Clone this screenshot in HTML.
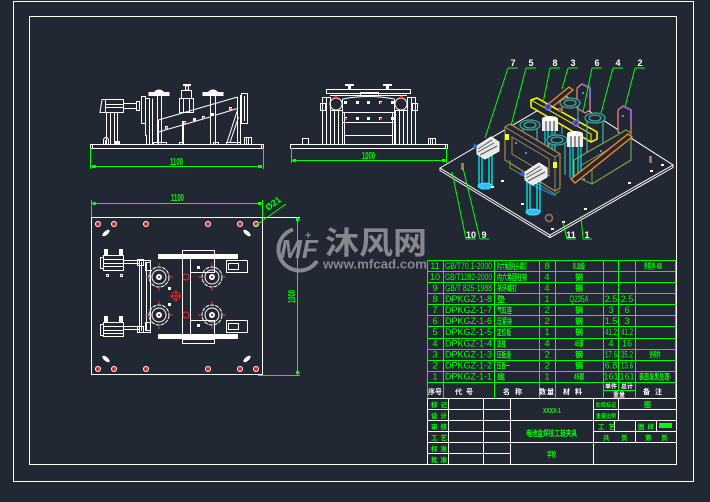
<!DOCTYPE html>
<html><head><meta charset="utf-8"><style>
html,body{margin:0;padding:0;background:#222833;width:710px;height:502px;overflow:hidden}
svg{display:block}
</style></head><body>
<svg width="710" height="502" viewBox="0 0 710 502" xmlns="http://www.w3.org/2000/svg" font-family="'Liberation Sans','Noto Sans CJK SC',sans-serif">
<rect width="710" height="502" fill="#222833"/>

<!-- borders -->
<g fill="none" stroke="#fff" stroke-width="1" shape-rendering="crispEdges">
<rect x="13.5" y="1.5" width="680" height="480"/>
<rect x="29.5" y="16.5" width="647" height="448"/>
</g>

<!-- ============ FRONT VIEW ============ -->
<g fill="none" stroke="#fff" stroke-width="1">
<rect x="90.5" y="144.5" width="173" height="4"/>
<path d="M92.5 144.5V148.5M261.5 144.5V148.5"/>
<!-- cylinder -->
<path d="M100 112.5L102 99.5H123.5V112.5Z"/>
<path d="M105.5 99.5V112.5M105.5 104.5H123.5M105.5 107.5H123.5"/>
<path d="M123.5 103.5H136.5V108.5H123.5"/>
<rect x="136.5" y="101.5" width="3" height="9"/>
<path d="M106.5 112.5V144.5M110.5 112.5V144.5M114.5 112.5V144.5M117.5 112.5V144.5"/>
<rect x="115.5" y="141.5" width="4" height="3" fill="#fff"/>
<path d="M103.5 144.5V139.5Q106 135 108.5 139.5V144.5M105.5 144V140"/>
<!-- plate -->
<path d="M141.5 123.5V96.5H145.5V98.5H149.5V144.5M141.5 123.5H145.5V135.5H146.5V144.5M145.5 98.5V123.5"/>
<path d="M152.5 98.5V144.5"/>
<!-- mushroom 1 -->
<rect x="149" y="92.5" width="20" height="3" fill="#fff"/>
<path d="M154 92.5Q159 87.5 164 92.5Z" fill="#fff"/>
<path d="M157.5 95.5V143.5M161.5 95.5V143.5"/>
<!-- center clamp -->
<rect x="183" y="84" width="8" height="2" fill="#fff" stroke="none"/>
<rect x="185.5" y="86" width="3" height="4"/>
<rect x="181.5" y="90.5" width="10" height="8"/>
<rect x="179.5" y="98.5" width="14" height="14"/>
<path d="M183.5 98.5V112.5M189.5 98.5V112.5"/>
<!-- mushroom 2 -->
<rect x="203" y="92.5" width="20" height="3" fill="#fff"/>
<path d="M208 92.5Q213 87.5 218 92.5Z" fill="#fff"/>
<path d="M210.5 95.5V144.5M215.5 95.5V144.5"/>
<!-- beam -->
<path d="M158.5 120L237.5 97M158.5 132L210 117M216 115L237.5 108.5M158.5 120V144.5M182.5 121V144.5M183.5 121V144.5"/>
<rect x="153.5" y="142.5" width="13" height="2"/>
<rect x="179.5" y="142.5" width="4" height="2"/>
<rect x="213.5" y="142.5" width="5" height="2"/>
<rect x="226.5" y="142.5" width="14" height="2"/>
<path d="M227 142.5L237.5 110M230 142.5L238.5 117M237.5 97V144.5M240.5 95V144.5"/>
<rect x="241.5" y="93.5" width="6" height="30"/>
<path d="M244.5 96V121"/>
<rect x="244.5" y="137.5" width="7" height="7"/>
<path d="M246.5 137.5V144.5M248.5 137.5V144.5"/>
</g>
<g fill="#fff">
<rect x="165" y="126" width="3" height="3"/><rect x="183" y="121" width="3" height="3"/>
<rect x="193" y="118" width="3" height="3"/><rect x="202" y="116" width="3" height="3"/>
<rect x="211" y="113" width="3" height="3"/><rect x="229" y="107" width="3" height="3"/>
</g>
<g fill="#ff2020">
<rect x="166" y="127" width="1.5" height="1.5"/><rect x="184" y="122" width="1.5" height="1.5"/>
<rect x="203" y="117" width="1.5" height="1.5"/><rect x="230" y="108" width="1.5" height="1.5"/>
</g>
<!-- front dim -->
<g stroke="#00ff00" stroke-width="1" fill="none">
<path d="M90.5 148V169M263.5 148V169M92 166.5H262"/>
</g>
<g fill="#00ff00">
<rect x="92" y="165" width="4" height="3"/><rect x="258" y="165" width="4" height="3"/>
<text x="170" y="165" font-size="10" font-weight="bold" textLength="13" lengthAdjust="spacingAndGlyphs">1100</text>
</g>

<!-- ============ SIDE VIEW ============ -->
<g fill="none" stroke="#fff" stroke-width="1">
<rect x="290.5" y="144.5" width="157" height="4"/>
<path d="M445.5 144.5V148.5"/>
<rect x="326.5" y="89.5" width="84" height="4"/>
<path d="M330 95.5H407"/>
<rect x="360.5" y="92.5" width="18" height="3"/>
<rect x="345" y="84" width="9" height="2" fill="#fff" stroke="none"/>
<rect x="383" y="84" width="9" height="2" fill="#fff" stroke="none"/>
<rect x="348" y="86" width="3" height="4" fill="#fff" stroke="none"/>
<rect x="386" y="86" width="3" height="4" fill="#fff" stroke="none"/>
<!-- left column -->
<rect x="322.5" y="97.5" width="8" height="47"/>
<rect x="330.5" y="110.5" width="12" height="34"/>
<path d="M326.5 97.5V144.5M334.5 110.5V144.5M338.5 110.5V144.5"/>
<rect x="320.5" y="103.5" width="5" height="7"/>
<circle cx="336" cy="104" r="6"/>
<!-- right column -->
<rect x="407.5" y="97.5" width="8" height="47"/>
<rect x="395.5" y="110.5" width="12" height="34"/>
<path d="M411.5 97.5V144.5M399.5 110.5V144.5M403.5 110.5V144.5"/>
<rect x="412.5" y="103.5" width="5" height="7"/>
<circle cx="401" cy="104" r="6"/>
<!-- middle -->
<path d="M342.5 99Q368.5 94 394.5 99M342.5 99V144.5M394.5 99V144.5M344.5 112V144.5M392.5 112V144.5"/>
<path d="M342.5 112.5H394.5M342.5 122.5H394.5M344.5 135.5H392.5"/>
<rect x="302.5" y="138.5" width="6" height="6"/>
<rect x="428.5" y="138.5" width="7" height="6"/>
<path d="M430.5 138.5V144.5M432.5 138.5V144.5"/>
</g>
<g fill="#fff">
<rect x="344" y="101" width="3" height="3"/><rect x="356" y="101" width="3" height="3"/><rect x="367" y="101" width="3" height="3"/><rect x="379" y="101" width="3" height="3"/><rect x="391" y="101" width="3" height="3"/>
<rect x="344" y="117" width="3" height="3"/><rect x="356" y="117" width="3" height="3"/><rect x="367" y="117" width="3" height="3"/><rect x="379" y="117" width="3" height="3"/><rect x="391" y="117" width="3" height="3"/>
</g>
<g fill="#ff2020">
<rect x="334" y="96" width="3" height="2"/><rect x="400" y="96" width="3" height="2"/>
<rect x="380" y="102" width="2" height="2"/><rect x="380" y="118" width="2" height="2"/><rect x="345" y="118" width="2" height="2"/>
</g>
<g stroke="#00ff00" fill="none">
<path d="M291.5 148V163M446.5 148V163M292 160.5H446"/>
</g>
<g fill="#00ff00">
<rect x="293" y="159" width="3" height="3"/><rect x="442" y="159" width="3" height="3"/>
<text x="362" y="159" font-size="10" font-weight="bold" textLength="13" lengthAdjust="spacingAndGlyphs">1000</text>
</g>

<!-- ============ PLAN VIEW ============ -->
<g fill="none" stroke="#fff" stroke-width="1">
<rect x="91.5" y="217.5" width="171" height="157"/>
<path d="M262.5 217.5H300"/>
<!-- cylinders -->
<rect x="103.5" y="255.5" width="20" height="15"/>
<rect x="100.5" y="257.5" width="3" height="11"/>
<path d="M104 259.5H123M104 263.5H123M104 266.5H123"/>
<rect x="123.5" y="260.5" width="16" height="3"/>
<rect x="103.5" y="322.5" width="20" height="14"/>
<rect x="100.5" y="324.5" width="3" height="11"/>
<path d="M104 326.5H123M104 330.5H123M104 333.5H123"/>
<rect x="123.5" y="326.5" width="16" height="3"/>
<rect x="106.5" y="274.5" width="2" height="2"/><rect x="120.5" y="274.5" width="2" height="2"/>
<!-- vertical bar -->
<rect x="139.5" y="260.5" width="11" height="72"/>
<path d="M141.5 262V331M146.5 262V331"/>
<rect x="137.5" y="259.5" width="6" height="6"/>
<rect x="137.5" y="326.5" width="6" height="6"/>
<rect x="145.5" y="262.5" width="5" height="8"/>
<rect x="145.5" y="322.5" width="5" height="8"/>
<!-- central -->
<rect x="182.5" y="250.5" width="32" height="4"/>
<rect x="182.5" y="339.5" width="32" height="4"/>
<rect x="182.5" y="258.5" width="8" height="76"/>
<rect x="190.5" y="258.5" width="24" height="14"/>
<rect x="190.5" y="320.5" width="24" height="14"/>
<!-- right blocks -->
<rect x="226.5" y="260.5" width="21" height="12"/>
<rect x="228.5" y="263.5" width="10" height="6"/>
<rect x="226.5" y="320.5" width="21" height="12"/>
<rect x="228.5" y="323.5" width="10" height="6"/>
<!-- circles -->
<circle cx="159" cy="277" r="10" stroke-dasharray="4 1"/><circle cx="159" cy="277" r="7"/>
<circle cx="212" cy="277" r="10" stroke-dasharray="4 1"/><circle cx="212" cy="277" r="7"/>
<circle cx="159" cy="315" r="10" stroke-dasharray="4 1"/><circle cx="159" cy="315" r="7"/>
<circle cx="212" cy="315" r="10" stroke-dasharray="4 1"/><circle cx="212" cy="315" r="7"/>
</g>
<g fill="#fff">
<rect x="158" y="254" width="80" height="5"/>
<rect x="158" y="334" width="80" height="5"/>
<circle cx="159" cy="277" r="3"/><circle cx="212" cy="277" r="3"/>
<circle cx="159" cy="315" r="3"/><circle cx="212" cy="315" r="3"/>
<rect x="104" y="249" width="4" height="6"/><rect x="119" y="249" width="4" height="6"/>
<rect x="104" y="316" width="4" height="6"/><rect x="119" y="316" width="4" height="6"/>
<rect x="168" y="287" width="3" height="3"/><rect x="168" y="303" width="3" height="3"/>
<rect x="197" y="266" width="3" height="3"/><rect x="197" y="324" width="3" height="3"/>
<ellipse cx="106" cy="233" rx="4.5" ry="2" transform="rotate(-40 106 233)"/>
<ellipse cx="247" cy="233" rx="4.5" ry="2" transform="rotate(40 247 233)"/>
<ellipse cx="106" cy="359" rx="4.5" ry="2" transform="rotate(40 106 359)"/>
<ellipse cx="247" cy="359" rx="4.5" ry="2" transform="rotate(-40 247 359)"/>
</g>
<g fill="#e02020" stroke="#fff" stroke-width="1">
<circle cx="98" cy="224" r="2.5"/><circle cx="114" cy="224" r="2.5"/><circle cx="146" cy="224" r="2.5"/><circle cx="208" cy="224" r="2.5"/><circle cx="240" cy="224" r="2.5"/><circle cx="256" cy="224" r="2.5"/>
<circle cx="98" cy="369" r="2.5"/><circle cx="114" cy="369" r="2.5"/><circle cx="146" cy="369" r="2.5"/><circle cx="208" cy="369" r="2.5"/><circle cx="240" cy="369" r="2.5"/><circle cx="256" cy="369" r="2.5"/>
</g>
<g stroke="#ff2020" stroke-width="1" fill="none">
<path d="M145 277H148M170 277H173M159 263V266M159 288V291M198 277H201M223 277H226M212 263V266M212 288V291"/>
<path d="M145 315H148M170 315H173M159 301V304M159 326V329M198 315H201M223 315H226M212 301V304M212 326V329"/>
<circle cx="186" cy="277" r="3"/><circle cx="186" cy="315" r="3"/>
<circle cx="176" cy="296" r="4"/>
<path d="M170 296H182M176 290V302M180 296H184"/>
</g>
<g fill="#ff2020">
<rect x="158" y="276" width="2" height="2"/><rect x="211" y="276" width="2" height="2"/>
<rect x="158" y="314" width="2" height="2"/><rect x="211" y="314" width="2" height="2"/>
</g>

<!-- watermark -->
<g fill="#8b8e93" opacity="0.95">
<path d="M293 229.5A21 21 0 1 0 317 261" fill="none" stroke="#8b8e93" stroke-width="4"/>
<text x="280" y="258" font-size="26" font-weight="bold" font-style="italic" textLength="38" lengthAdjust="spacingAndGlyphs">MF</text>
<text x="305" y="239" font-size="11" font-weight="bold">+</text>
<text x="325" y="254" font-size="31" font-weight="bold" font-family="'Noto Sans CJK SC',sans-serif" textLength="102" lengthAdjust="spacingAndGlyphs">沐风网</text>
<text x="323" y="268.5" font-size="13" font-weight="bold" textLength="104" lengthAdjust="spacingAndGlyphs">www.mfcad.com</text>
</g>

<!-- plan dims -->
<g stroke="#00ff00" fill="none">
<path d="M91.5 200V217M262.5 200V217M91 203.5H263"/>
<path d="M297.5 217V375M258 375.5H300"/>
<path d="M255 226L286 204"/>
</g>
<g fill="#00ff00">
<rect x="93" y="202" width="3" height="3"/><rect x="258" y="202" width="3" height="3"/>
<rect x="296" y="218" width="3" height="3"/><rect x="296" y="371" width="3" height="3"/>
<text x="171" y="201" font-size="10" font-weight="bold" textLength="13" lengthAdjust="spacingAndGlyphs">1100</text>
<text transform="translate(295 303) rotate(-90)" font-size="10" font-weight="bold" textLength="13" lengthAdjust="spacingAndGlyphs">1000</text>
<text transform="translate(268 211) rotate(-36)" font-size="9" font-weight="bold">Ø21</text>
</g>

<!-- ============ 3D VIEW ============ -->
<g fill="none" stroke="#fff" stroke-width="1">
<path d="M440 168L564 95L673 165L550 235Z"/>
<path d="M440 168V170.5L550 237.5L673 167.5V165M550 235V237.5"/>
</g>
<!-- pink plates -->
<polygon points="577,88 582,84 590,88 590,110 585,113 577,108" fill="#222833" stroke="#f08080" stroke-width="1.3"/>
<polyline points="582,84 590,88 590,100" fill="none" stroke="#9060d0" stroke-width="2"/>
<polygon points="618,110 623,106 631,110 631,134 626,137 618,132" fill="#222833" stroke="#f08080" stroke-width="1.3"/>
<polyline points="623,106 631,110 631,121" fill="none" stroke="#9060d0" stroke-width="2"/>
<!-- teal A -->
<g stroke="#40a898" stroke-width="1.3" fill="#222833">
<path d="M562 104V134M578 104V134"/>
<ellipse cx="570" cy="103" rx="10" ry="5"/><ellipse cx="570" cy="103" rx="6" ry="3"/>
</g>
<!-- orange back bar -->
<polygon points="541,110 569,87 573,90 545,113" fill="#222833" stroke="#ff9020" stroke-width="1.2"/>
<!-- yellow bar -->
<polygon points="531,100 537,98 597,132 597,139 591,142 531,107" fill="#222833" stroke="#ffff00" stroke-width="1.5"/>
<path d="M531 100L591 134V142" stroke="#ffff00" fill="none"/>
<rect x="558" y="108" width="5" height="4" fill="#a07040"/>
<circle cx="548" cy="107" r="3" fill="#5040a0" stroke="#8080ff"/>
<circle cx="576" cy="123" r="3" fill="#5040a0" stroke="#8080ff"/>
<!-- teal B -->
<g stroke="#40a898" stroke-width="1.3" fill="#222833">
<path d="M587 119V160M603 119V160"/>
<ellipse cx="595" cy="118" rx="10" ry="5"/><ellipse cx="595" cy="118" rx="6" ry="3"/>
</g>
<!-- olive box -->
<polygon points="574,160 626,130 631,133 631,160 592,184 574,176" fill="#222833" stroke="#70a840" stroke-width="1.2"/>
<path d="M580 166L626 139M592 184V167" stroke="#70a840" fill="none"/>
<!-- teal C -->
<g stroke="#40a898" stroke-width="1.3" fill="#222833">
<path d="M523 126V155M537 126V155"/>
<ellipse cx="530" cy="125" rx="10" ry="5"/><ellipse cx="530" cy="125" rx="6" ry="3"/>
</g>
<!-- clamp 1 -->
<rect x="542" y="119" width="16" height="12" fill="#eee"/>
<ellipse cx="550" cy="119" rx="8" ry="3" fill="#fff"/>
<path d="M546 121V131M550 121V131M554 121V131" stroke="#333" />
<path d="M545 131V150M548 131V150M552 131V150M555 131V150" stroke="#00ffff"/>
<!-- teal D -->
<g stroke="#40a898" stroke-width="1.3" fill="#222833">
<path d="M549 141V175M565 141V175"/>
<ellipse cx="557" cy="140" rx="10" ry="5"/><ellipse cx="557" cy="140" rx="6" ry="3"/>
</g>
<!-- clamp 2 -->
<rect x="567" y="134" width="16" height="13" fill="#eee"/>
<ellipse cx="575" cy="134" rx="8" ry="3" fill="#fff"/>
<path d="M571 136V147M575 136V147M579 136V147" stroke="#333"/>
<path d="M570 147V178M573 147V178M578 147V178M581 147V178" stroke="#00ffff"/>
<!-- orange front bar -->
<polygon points="571,179 628,134 632,137 575,183" fill="#222833" stroke="#ff8c20" stroke-width="1.3"/>
<!-- tan frame -->
<polygon points="505,127 510,124 560,154 560,188 555,191 505,160" fill="#222833" stroke="#a88850" stroke-width="1.2"/>
<polygon points="510,124 560,154 555,157 505,127" fill="none" stroke="#a88850"/>
<path d="M555 157V191" stroke="#a88850"/>
<polygon points="512,137 549,159 549,176 512,154" fill="none" stroke="#a88850"/>
<rect x="505" y="134" width="4" height="6" fill="#ffff00"/>
<rect x="553" y="162" width="4" height="6" fill="#ffff00"/>
<g fill="#5090e0"><rect x="515" y="142" width="2" height="2"/><rect x="525" y="152" width="2" height="2"/><rect x="600" y="150" width="2" height="2"/><rect x="582" y="92" width="2" height="2"/><rect x="622" y="115" width="2" height="2"/><rect x="583" y="178" width="2" height="2"/></g>
<path d="M510 160V168L555 194L560 191" stroke="#6aa040" fill="none"/>
<path d="M528 183L556 196" stroke="#2070ff" stroke-width="1.3"/>
<!-- left cylinder block -->
<path d="M479 152V186M482 152V186M489 152V186M492 152V186" stroke="#00ffff" stroke-width="1.2"/>
<ellipse cx="485" cy="186" rx="7" ry="3" fill="#50b0ff" stroke="#00ffff"/>
<polygon points="477,146 491,137 499,142 499,151 485,159 477,154" fill="#e8e8e8" stroke="#fff"/>
<path d="M478 149L492 140M478 152L494 143M480 155L497 146" stroke="#555"/>
<circle cx="475" cy="146" r="2" fill="#2060ff"/>
<!-- front cylinder block -->
<path d="M527 180V212M530 180V212M537 180V212M540 180V212" stroke="#00ffff" stroke-width="1.2"/>
<ellipse cx="533" cy="212" rx="7" ry="3" fill="#50b0ff" stroke="#00ffff"/>
<polygon points="525,172 539,163 547,168 547,177 533,185 525,180" fill="#e8e8e8" stroke="#fff"/>
<path d="M526 175L540 166M526 178L542 169M528 181L545 172" stroke="#555"/>
<circle cx="522" cy="174" r="2" fill="#2060ff"/>
<!-- small marks -->
<g fill="#fff">
<rect x="501" y="180" width="3" height="2"/><rect x="491" y="186" width="3" height="2"/><rect x="521" y="203" width="3" height="2"/>
<rect x="584" y="208" width="3" height="2"/><rect x="628" y="182" width="3" height="2"/><rect x="650" y="170" width="3" height="2"/>
<rect x="661" y="164" width="3" height="2"/><rect x="551" y="228" width="3" height="2"/><rect x="562" y="221" width="3" height="2"/>
</g>
<rect x="461" y="163" width="3" height="7" fill="#a07850"/>
<rect x="649" y="156" width="3" height="7" fill="#a07850"/>
<circle cx="549" cy="218" r="3.5" fill="none" stroke="#a07850" stroke-width="1.5"/>
<!-- leaders -->
<g stroke="#00ff00" fill="none">
<path d="M508 68H518M508 68L485 138"/>
<path d="M526 68H536M526 68L511 126"/>
<path d="M550 68H560M550 68L543 103"/>
<path d="M568 68H578M568 68L562 89"/>
<path d="M592 68H602M592 68L583 112"/>
<path d="M613 68H623M613 68L601 113"/>
<path d="M635 68H645M635 68L625 107"/>
<path d="M466 239H476M466 239L452 172"/>
<path d="M480 239H489M480 239L463 168"/>
<path d="M567 239H576M567 239L563 222"/>
<path d="M583 239H592M583 239L581 216"/>
</g>
<g fill="#fff" font-size="9" font-weight="bold" text-anchor="middle">
<text x="513" y="66">7</text><text x="531" y="66">5</text><text x="555" y="66">8</text><text x="573" y="66">3</text><text x="597" y="66">6</text><text x="618" y="66">4</text><text x="640" y="66">2</text>
<text x="471" y="238">10</text><text x="484" y="238">9</text><text x="571" y="238">11</text><text x="587" y="238">1</text>
</g>

<!-- ============ PARTS LIST ============ -->
<g stroke="#00ff00" stroke-width="1" fill="none" shape-rendering="crispEdges">
<path d="M427.5 260.5H676M427.5 271.5H676M427.5 282.5H676M427.5 293.5H676M427.5 304.5H676M427.5 315.5H676M427.5 326.5H676M427.5 338.5H676M427.5 349.5H676M427.5 360.5H676M427.5 371.5H676M427.5 382.5H676"/>
<path d="M427.5 260.5V398M443.5 260.5V398M494.5 260.5V398M539.5 260.5V398M555.5 260.5V398M603.5 260.5V398M618.5 260.5V390.5M635.5 260.5V398M675.5 260.5V398M603.5 390.5H635.5"/>
</g>
<g fill="#00ff00" font-size="9">
<g text-anchor="middle">
<text x="435" y="269">11</text><text x="435" y="280">10</text><text x="435" y="291">9</text><text x="435" y="302">8</text><text x="435" y="313">7</text><text x="435" y="324">6</text><text x="435" y="335">5</text><text x="435" y="346.5">4</text><text x="435" y="357.5">3</text><text x="435" y="368.5">2</text><text x="435" y="379.5">1</text>
<text x="547" y="269">8</text><text x="547" y="280">4</text><text x="547" y="291">4</text><text x="547" y="302">1</text><text x="547" y="313">2</text><text x="547" y="324">2</text><text x="547" y="335">1</text><text x="547" y="346.5">4</text><text x="547" y="357.5">2</text><text x="547" y="368.5">2</text><text x="547" y="379.5">1</text>
<text x="611" y="302">2.5</text><text x="627" y="302">2.5</text>
<text x="611" y="313">3</text><text x="627" y="313">6</text>
<text x="611" y="324">1.5</text><text x="627" y="324">3</text>
<text x="611" y="335" textLength="12" lengthAdjust="spacingAndGlyphs">41.2</text><text x="627" y="335" textLength="12" lengthAdjust="spacingAndGlyphs">41.2</text>
<text x="611" y="346.5">4</text><text x="627" y="346.5">16</text>
<text x="611" y="357.5" textLength="12" lengthAdjust="spacingAndGlyphs">17.6</text><text x="627" y="357.5" textLength="12" lengthAdjust="spacingAndGlyphs">35.2</text>
<text x="611" y="368.5">6.8</text><text x="627" y="368.5" textLength="12" lengthAdjust="spacingAndGlyphs">13.6</text>
<text x="611" y="379.5">161</text><text x="627" y="379.5">161</text>
<text x="579" y="302" textLength="19" lengthAdjust="spacingAndGlyphs">Q235A</text>
</g>
<g textLength="47" lengthAdjust="spacingAndGlyphs">
<text x="445" y="269" textLength="47" lengthAdjust="spacingAndGlyphs">GB/T70.1-2000</text>
<text x="445" y="280" textLength="47" lengthAdjust="spacingAndGlyphs">GB/T1282-2000</text>
<text x="445" y="291" textLength="47" lengthAdjust="spacingAndGlyphs">GB/T 825-1988</text>
<text x="445" y="302" textLength="47" lengthAdjust="spacingAndGlyphs">DPKGZ-1-8</text>
<text x="445" y="313" textLength="47" lengthAdjust="spacingAndGlyphs">DPKGZ-1-7</text>
<text x="445" y="324" textLength="47" lengthAdjust="spacingAndGlyphs">DPKGZ-1-6</text>
<text x="445" y="335" textLength="47" lengthAdjust="spacingAndGlyphs">DPKGZ-1-5</text>
<text x="445" y="346.5" textLength="47" lengthAdjust="spacingAndGlyphs">DPKGZ-1-4</text>
<text x="445" y="357.5" textLength="47" lengthAdjust="spacingAndGlyphs">DPKGZ-1-3</text>
<text x="445" y="368.5" textLength="47" lengthAdjust="spacingAndGlyphs">DPKGZ-1-2</text>
<text x="445" y="379.5" textLength="47" lengthAdjust="spacingAndGlyphs">DPKGZ-1-1</text>
</g>
<g font-size="8" font-weight="bold">
<text x="497" y="269" textLength="30" lengthAdjust="spacingAndGlyphs">内六角圆柱头螺钉</text>
<text x="497" y="280" textLength="30" lengthAdjust="spacingAndGlyphs">内六角圆柱销</text>
<text x="497" y="291" textLength="20" lengthAdjust="spacingAndGlyphs">吊环螺钉</text>
<text x="497" y="302">垫</text>
<text x="497" y="313" textLength="15" lengthAdjust="spacingAndGlyphs">气缸座</text>
<text x="497" y="324" textLength="15" lengthAdjust="spacingAndGlyphs">压紧块</text>
<text x="497" y="335" textLength="14" lengthAdjust="spacingAndGlyphs">定位板</text>
<text x="497" y="346.5" textLength="9" lengthAdjust="spacingAndGlyphs">支柱</text>
<text x="497" y="357.5" textLength="14" lengthAdjust="spacingAndGlyphs">压板座</text>
<text x="497" y="368.5" textLength="13" lengthAdjust="spacingAndGlyphs">压板一</text>
<text x="497" y="379.5">底</text>
<g text-anchor="middle">
<text x="579" y="269" textLength="12" lengthAdjust="spacingAndGlyphs">8.8级</text>
<text x="579" y="280">钢</text><text x="579" y="291">钢</text>
<text x="579" y="313">钢</text><text x="579" y="324">钢</text><text x="579" y="335">钢</text>
<text x="579" y="346.5" textLength="9" lengthAdjust="spacingAndGlyphs">45钢</text>
<text x="579" y="357.5">钢</text><text x="579" y="368.5">钢</text>
<text x="579" y="379.5" textLength="10" lengthAdjust="spacingAndGlyphs">45钢</text>
<text x="653" y="269" textLength="18" lengthAdjust="spacingAndGlyphs">外购件-M8</text>
<text x="655" y="357.5" textLength="11" lengthAdjust="spacingAndGlyphs">外购件</text>
<text x="655" y="379.5" textLength="32" lengthAdjust="spacingAndGlyphs">表面发黑处理-</text>
</g>
</g>
</g>
<!-- header (white) -->
<g fill="#fff" font-size="7" font-weight="bold" text-anchor="middle">
<text x="435" y="394">序号</text>
<text x="466" y="394" letter-spacing="4">代号</text>
<text x="515" y="394" letter-spacing="5">名称</text>
<text x="547" y="394" letter-spacing="1">数量</text>
<text x="575" y="394" letter-spacing="5">材料</text>
<text x="611" y="388.5" font-size="6">单件</text>
<text x="627" y="388.5" font-size="6">总计</text>
<text x="619" y="397" font-size="6">重量</text>
<text x="655" y="394" letter-spacing="5">备注</text>
</g>

<!-- ============ TITLE BLOCK ============ -->
<g stroke="#fff" stroke-width="1" fill="none" shape-rendering="crispEdges">
<path d="M427.5 398.5H676M427.5 398.5V464.5"/>
<path d="M448.5 398.5V464.5M483.5 398.5V464.5M510.5 398.5V464.5M593.5 398.5V464.5"/>
<path d="M427.5 409.5H510.5M427.5 420.5H510.5M427.5 431.5H510.5M427.5 442.5H510.5M427.5 453.5H510.5"/>
<path d="M510.5 420.5H593.5M510.5 442.5H593.5"/>
<path d="M593.5 409.5H676M593.5 420.5H676M593.5 431.5H676M593.5 442.5H676"/>
<path d="M618.5 398.5V420.5M614.5 420.5V431.5M635.5 420.5V442.5M656.5 420.5V431.5"/>
</g>
<g fill="#00ff00" font-size="6.5" font-weight="bold">
<g letter-spacing="3">
<text x="431" y="407">标记</text><text x="431" y="418">设计</text><text x="431" y="429">审核</text>
<text x="431" y="440">工艺</text><text x="431" y="451">标准</text><text x="431" y="462">批准</text>
</g>
<text x="543" y="413" font-size="7" textLength="18" lengthAdjust="spacingAndGlyphs">XXXX-1</text>
<text x="526" y="436" font-size="8" textLength="51" lengthAdjust="spacingAndGlyphs">电池盒焊接工装夹具</text>
<text x="547" y="457" font-size="7.5" textLength="9" lengthAdjust="spacingAndGlyphs">学校</text>
<text x="596" y="407" font-size="5.5" textLength="20" lengthAdjust="spacingAndGlyphs">阶段标记</text>
<text x="596" y="418" font-size="5.5" textLength="20" lengthAdjust="spacingAndGlyphs">重量比例</text>
<text x="644" y="407" font-size="7">图</text>
<text x="598" y="429" letter-spacing="4">工艺</text>
<text x="638" y="429" letter-spacing="3">图样</text>
<text x="603" y="440">共</text><text x="621" y="440">页</text><text x="645" y="440">第</text><text x="661" y="440">页</text>
</g>
<rect x="659" y="423" width="13" height="5" fill="#00ff00"/>
</svg>
</body></html>
